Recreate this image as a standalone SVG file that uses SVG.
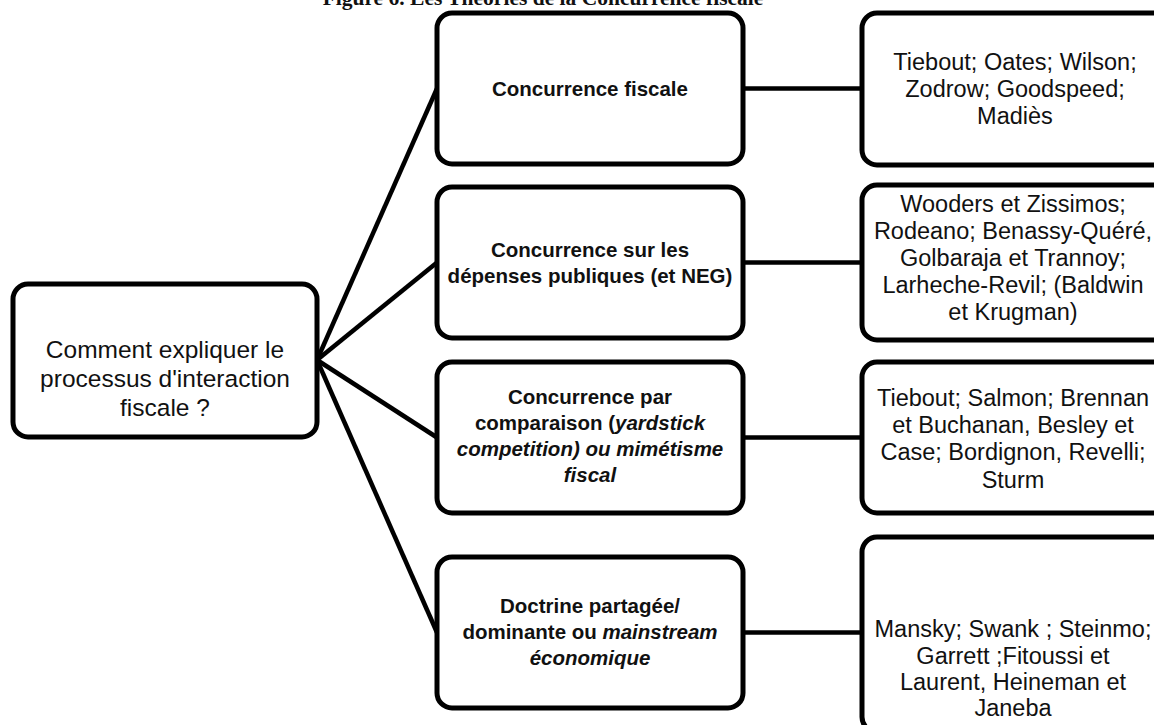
<svg xmlns="http://www.w3.org/2000/svg" width="1154" height="725" viewBox="0 0 1154 725">
<style>
.box{fill:#fff;stroke:#000;stroke-width:5}
.con{stroke:#000;stroke-width:4.5;fill:none}
.t{font-family:"Liberation Sans",Arial,sans-serif;font-size:23.5px;fill:#111;text-anchor:middle}
.l{font-size:24.5px}
.b{font-family:"Liberation Sans",Arial,sans-serif;font-size:20.5px;font-weight:bold;fill:#111;text-anchor:middle}
.i{font-style:italic}
.title{font-family:"Liberation Serif","Times New Roman",serif;font-size:21.5px;font-weight:bold;fill:#111;text-anchor:middle}
</style>
<rect width="1154" height="725" fill="#fff"/>
<text class="title" x="543" y="5">Figure 6. Les Théories de la Concurrence fiscale</text>
<g id="connectors">
<line class="con" x1="317" y1="360" x2="437" y2="88.5"/>
<line class="con" x1="317" y1="360" x2="437" y2="262.5"/>
<line class="con" x1="317" y1="360" x2="437" y2="437.5"/>
<line class="con" x1="317" y1="360" x2="437" y2="632.5"/>
<line class="con" x1="743" y1="88.5" x2="862" y2="88.5"/>
<line class="con" x1="743" y1="262.5" x2="862" y2="262.5"/>
<line class="con" x1="743" y1="437.5" x2="862" y2="437.5"/>
<line class="con" x1="743" y1="632.5" x2="862" y2="632.5"/>
</g>
<g id="root">
<rect class="box" x="13" y="284" width="304" height="153" rx="15"/>
<text class="t l" x="165" y="358">Comment expliquer le</text>
<text class="t l" x="165" y="387">processus d'interaction</text>
<text class="t l" x="165" y="416">fiscale ?</text>
</g>
<g id="m1">
<rect class="box" x="437" y="13" width="306" height="151" rx="15"/>
<text class="b" x="590" y="96">Concurrence fiscale</text>
</g>
<g id="m2">
<rect class="box" x="437" y="187" width="306" height="151" rx="15"/>
<text class="b" x="590" y="257">Concurrence sur les</text>
<text class="b" x="590" y="283">dépenses publiques (et NEG)</text>
</g>
<g id="m3">
<rect class="box" x="437" y="362" width="306" height="151" rx="15"/>
<text class="b" x="590" y="404">Concurrence par</text>
<text class="b" x="590" y="430">comparaison (<tspan class="i">yardstick</tspan></text>
<text class="b i" x="590" y="456">competition) ou mimétisme</text>
<text class="b i" x="590" y="482">fiscal</text>
</g>
<g id="m4">
<rect class="box" x="437" y="557" width="306" height="151" rx="15"/>
<text class="b" x="590" y="613">Doctrine partagée/</text>
<text class="b" x="590" y="639">dominante ou <tspan class="i">mainstream</tspan></text>
<text class="b i" x="590" y="665">économique</text>
</g>
<g id="r1">
<rect class="box" x="862" y="13" width="306" height="152" rx="15"/>
<text class="t" x="1015" y="70">Tiebout; Oates; Wilson;</text>
<text class="t" x="1015" y="97">Zodrow; Goodspeed;</text>
<text class="t" x="1015" y="124">Madiès</text>
</g>
<g id="r2">
<rect class="box" x="862" y="185" width="306" height="155" rx="15"/>
<text class="t" x="1013" y="212">Wooders et Zissimos;</text>
<text class="t" x="1013" y="239">Rodeano; Benassy-Quéré,</text>
<text class="t" x="1013" y="266">Golbaraja et Trannoy;</text>
<text class="t" x="1013" y="293">Larheche-Revil; (Baldwin</text>
<text class="t" x="1013" y="320">et Krugman)</text>
</g>
<g id="r3">
<rect class="box" x="862" y="362" width="306" height="151" rx="15"/>
<text class="t" x="1013" y="406">Tiebout; Salmon; Brennan</text>
<text class="t" x="1013" y="433">et Buchanan, Besley et</text>
<text class="t" x="1013" y="460">Case; Bordignon, Revelli;</text>
<text class="t" x="1013" y="488">Sturm</text>
</g>
<g id="r4">
<rect class="box" x="862" y="537" width="306" height="195" rx="15"/>
<text class="t" x="1013" y="637">Mansky; Swank ; Steinmo;</text>
<text class="t" x="1013" y="664">Garrett ;Fitoussi et</text>
<text class="t" x="1013" y="690">Laurent, Heineman et</text>
<text class="t" x="1013" y="716">Janeba</text>
</g>
</svg>
